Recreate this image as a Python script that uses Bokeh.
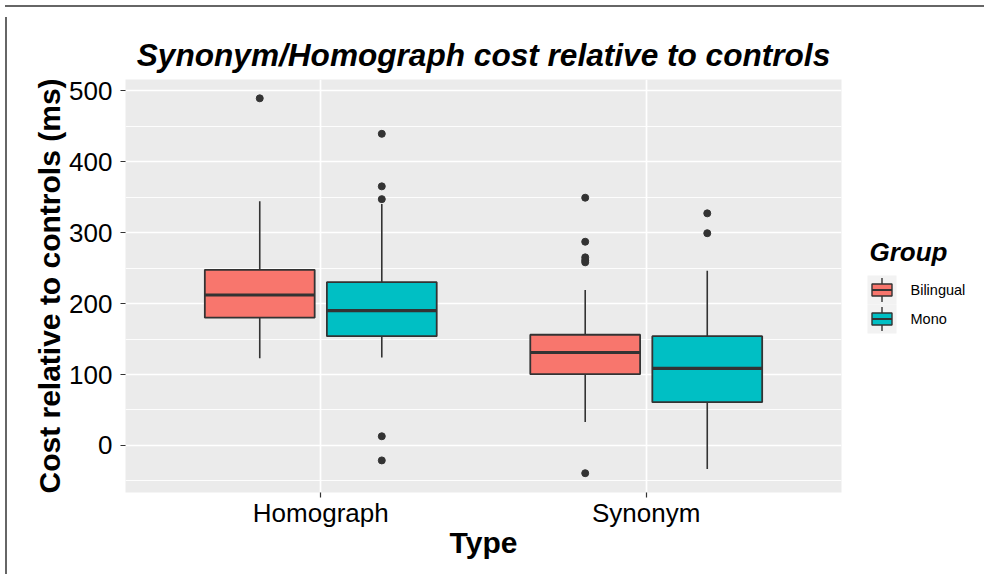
from bokeh.plotting import figure
from bokeh.models import Range1d, FixedTicker, ColumnDataSource, Div
from bokeh.layouts import row, column
from bokeh.embed import file_html
from bokeh.resources import INLINE
from bokeh.core.properties import value

# ---------------- data ----------------
types = ["Homograph", "Synonym"]
groups = ["Bilingual", "Mono"]
group_colors = ["#F8766D", "#00BFC4"]

bil_lower = [123, 33]
bil_q1 = [180, 100.5]
bil_median = [212, 131]
bil_q3 = [247.5, 156]
bil_upper = [344, 219]
bil_outliers = [[489], [349, 287, 265, 261, 258, -39]]

mono_lower = [124, -33]
mono_q1 = [154, 61]
mono_median = [190, 108.5]
mono_q3 = [230, 154]
mono_upper = [340, 246]
mono_outliers = [[439, 365, 347, 13, -21], [327, 299]]

y_ticks = [0, 100, 200, 300, 400, 500]
y_minor = [-50, 50, 150, 250, 350, 450]

title_text = "Synonym/Homograph cost relative to controls"
x_title = "Type"
y_title = "Cost relative to controls (ms)"
legend_title = "Group"

# ---------------- style ----------------
FONT = "Liberation Sans"
DODGE = 0.1875
BOX_W = 0.3375
EDGE = "#333333"
BORDER = "#666666"

MAIN_W, H = 850, 557
MB_TOP, MB_BOTTOM = 67, 77
p = figure(width=MAIN_W, height=H,
           x_range=Range1d(0.4, 2.6), y_range=Range1d(-66.2, 515.5),
           output_backend="svg", toolbar_location=None,
           min_border_left=113, min_border_right=21,
           min_border_top=MB_TOP, min_border_bottom=MB_BOTTOM)
p.background_fill_color = "#EBEBEB"
p.border_fill_color = "white"
p.outline_line_color = None

stats = {
    "Bilingual": (bil_lower, bil_q1, bil_median, bil_q3, bil_upper, bil_outliers),
    "Mono": (mono_lower, mono_q1, mono_median, mono_q3, mono_upper, mono_outliers),
}

for gi, (g, col) in enumerate(zip(groups, group_colors)):
    lo, q1, med, q3, up, outs = stats[g]
    xs = [i + 1 + (-DODGE if gi == 0 else DODGE) for i in range(len(types))]
    src = ColumnDataSource(dict(x=xs, lo=lo, q1=q1, med=med, q3=q3, up=up,
                                xl=[x - BOX_W / 2 for x in xs],
                                xr=[x + BOX_W / 2 for x in xs]))
    p.segment(x0="x", x1="x", y0="q3", y1="up", source=src, line_color=EDGE, line_width=1.6)
    p.segment(x0="x", x1="x", y0="lo", y1="q1", source=src, line_color=EDGE, line_width=1.6)
    p.vbar(x="x", width=BOX_W, bottom="q1", top="q3", source=src,
           fill_color=col, line_color=EDGE, line_width=1.8)
    p.segment(x0="xl", x1="xr", y0="med", y1="med", source=src, line_color=EDGE, line_width=3.2)
    ox, oy = [], []
    for x, vals in zip(xs, outs):
        for v in vals:
            ox.append(x)
            oy.append(v)
    p.scatter(x=ox, y=oy, marker="circle", size=7, fill_color=EDGE, line_color=EDGE)

# title
p.title.text = title_text
p.title.align = "center"
p.title.text_font = FONT
p.title.text_font_size = "31.6px"
p.title.text_font_style = "bold italic"
p.title.text_color = "black"
p.title.standoff = 14

# axes
p.xaxis.ticker = FixedTicker(ticks=[1, 2])
p.xaxis.major_label_overrides = {1: types[0], 2: types[1]}
p.yaxis.ticker = FixedTicker(ticks=y_ticks, minor_ticks=y_minor)
for ax in (p.xaxis[0], p.yaxis[0]):
    ax.axis_line_color = None
    ax.major_tick_line_color = EDGE
    ax.major_tick_line_width = 1.2
    ax.major_tick_in = 0
    ax.major_tick_out = 5
    ax.minor_tick_line_color = None
    ax.major_label_text_font = FONT
    ax.major_label_text_font_size = "26px"
    ax.major_label_text_color = "black"
    ax.axis_label_text_font = FONT
    ax.axis_label_text_font_size = "30px"
    ax.axis_label_text_font_style = "bold"
    ax.axis_label_text_color = "black"
p.xaxis.axis_label = x_title
p.yaxis.axis_label = y_title
p.xaxis.major_label_standoff = 0
p.xaxis.axis_label_standoff = -5
p.yaxis.major_label_standoff = 8
p.yaxis.axis_label_standoff = 0

p.xgrid.grid_line_color = "white"
p.xgrid.grid_line_width = 1.7
p.ygrid.grid_line_color = "white"
p.ygrid.grid_line_width = 1.7
p.ygrid.minor_grid_line_color = "white"
p.ygrid.minor_grid_line_width = 0.9

# ---------------- legend panel ----------------
# coordinates of this panel are its own pixels (frame aligned with the main frame)
LW = 127
lf = figure(width=LW, height=H, x_range=Range1d(0, LW),
            y_range=Range1d(H - MB_BOTTOM, MB_TOP),
            x_axis_type=None, y_axis_type=None, output_backend="svg",
            toolbar_location=None, min_border_left=0, min_border_right=0,
            min_border_top=MB_TOP, min_border_bottom=MB_BOTTOM)
lf.background_fill_color = "white"
lf.border_fill_color = "white"
lf.outline_line_color = None
lf.grid.visible = False

key_left, key_size = 5, 29
key_top = 263
title_y = 239
lf.text(x=[7], y=[title_y], text=[legend_title], text_font=value(FONT),
        text_font_size="26px", text_font_style="bold italic",
        text_baseline="middle", text_align="left", text_color="black")
centers = [key_top + key_size / 2 + i * key_size for i in range(len(groups))]
kx = key_left + key_size / 2
lf.quad(left=[key_left] * len(groups), right=[key_left + key_size] * len(groups),
        top=[c - key_size / 2 for c in centers], bottom=[c + key_size / 2 for c in centers],
        fill_color="#F2F2F2", line_color=None)
lf.segment(x0=[kx] * len(groups), x1=[kx] * len(groups),
           y0=[c - 12 for c in centers], y1=[c + 12 for c in centers],
           line_color=EDGE, line_width=1.4)
lf.quad(left=[kx - 10] * len(groups), right=[kx + 10] * len(groups),
        top=[c - 6 for c in centers], bottom=[c + 6 for c in centers],
        fill_color=group_colors, line_color=EDGE, line_width=1.4)
lf.segment(x0=[kx - 10] * len(groups), x1=[kx + 10] * len(groups),
           y0=centers, y1=centers, line_color=EDGE, line_width=2)
lf.text(x=[key_left + key_size + 14] * len(groups), y=centers, text=groups,
        text_font=value(FONT), text_font_size="14.5px",
        text_baseline="middle", text_align="left", text_color="black")

top_line = Div(text="", width=2 + MAIN_W + LW, height=2,
               styles={"background-color": BORDER})
left_line = Div(text="", width=2, height=H, styles={"background-color": BORDER})
layout = column(top_line, row(left_line, p, lf))

open("out.html", "w").write(file_html(layout, INLINE))
